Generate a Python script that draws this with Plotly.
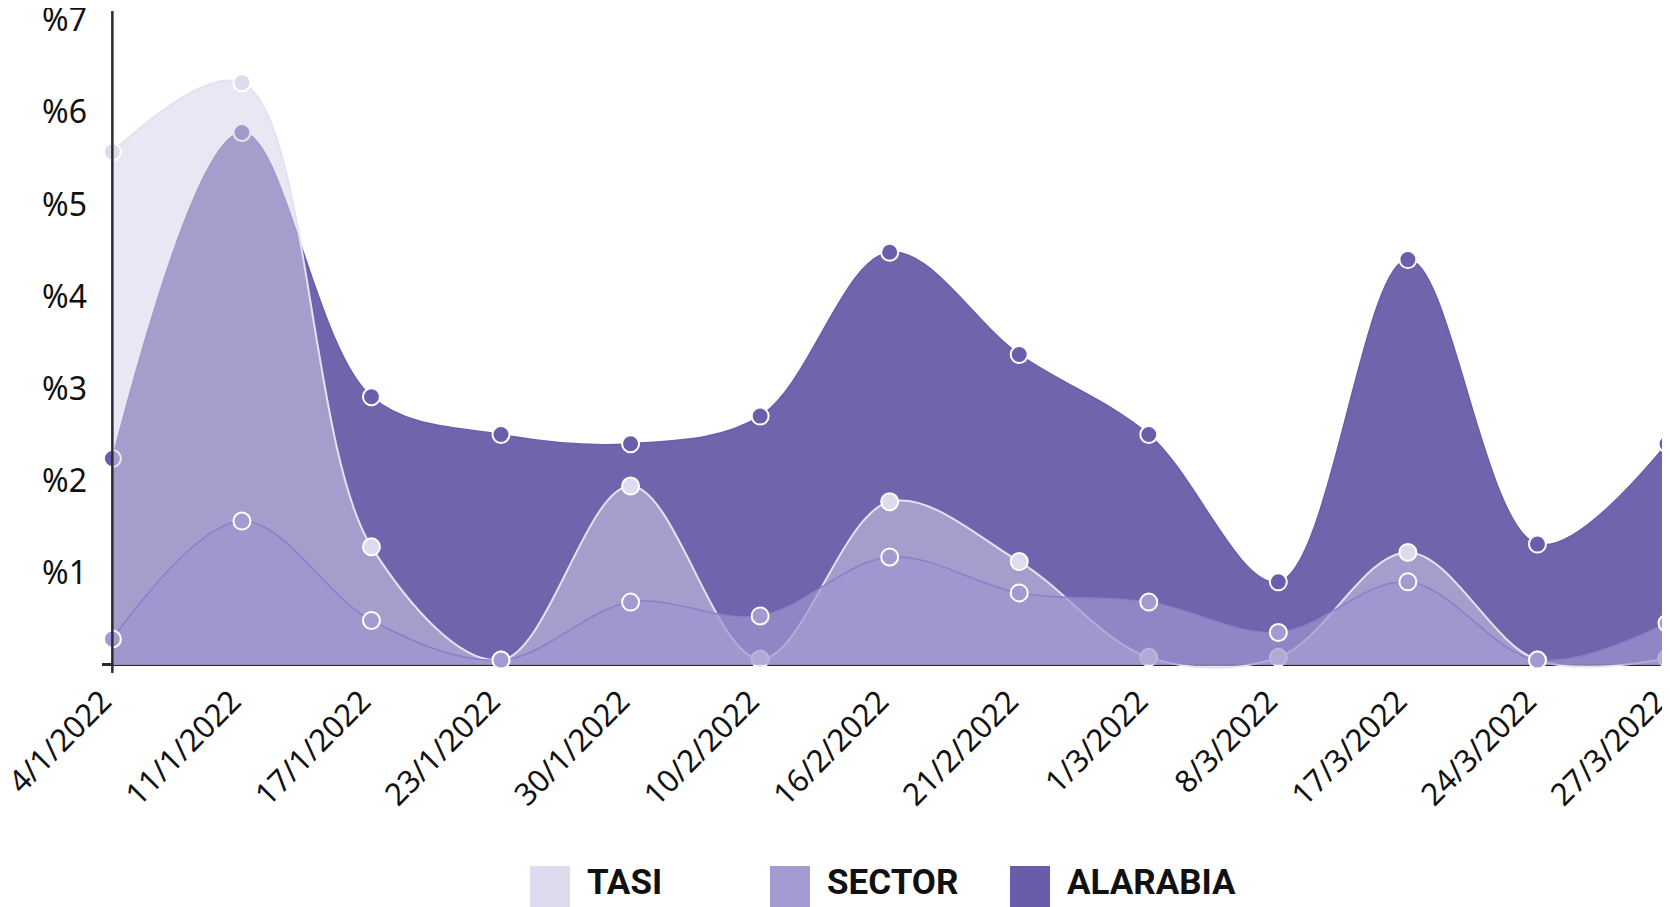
import plotly.graph_objects as go

# ---- data ----
dates = ["4/1/2022", "11/1/2022", "17/1/2022", "23/1/2022", "30/1/2022", "10/2/2022",
         "16/2/2022", "21/2/2022", "1/3/2022", "8/3/2022", "17/3/2022", "24/3/2022", "27/3/2022"]
tasi = [5.57, 6.32, 1.28, 0.05, 1.94, 0.06, 1.77, 1.12, 0.08, 0.08, 1.22, 0.05, 0.07]
sector = [0.28, 1.56, 0.48, 0.05, 0.68, 0.53, 1.17, 0.78, 0.68, 0.35, 0.90, 0.05, 0.45]
alarabia = [2.24, 5.78, 2.91, 2.50, 2.40, 2.70, 4.48, 3.37, 2.50, 0.90, 4.40, 1.31, 2.40]
y_tick_vals = [1, 2, 3, 4, 5, 6, 7]
y_tick_text = ["%1", "%2", "%3", "%4", "%5", "%6", "%7"]
legend_names = ["TASI", "SECTOR", "ALARABIA"]
legend_colors = ["#dedbef", "#a29bd1", "#6a5caa"]

# ---- styles ----
styles = {
    "ALARABIA": dict(fill="rgb(112,101,173)", line="#6a5cab", lw=1.5, marker="#6b5dab"),
    "TASI": dict(fill="rgba(214,210,232,0.53)", line="#e4e1f1", lw=2.0, marker="#dedbef"),
    "SECTOR": dict(fill="rgba(156,149,206,0.70)", line="#8780cc", lw=1.5, marker="#a29bd1"),
}
series = {"ALARABIA": alarabia, "TASI": tasi, "SECTOR": sector}

fig = go.Figure()
for name in ["ALARABIA", "TASI", "SECTOR"]:
    s = styles[name]
    fig.add_trace(go.Scatter(
        x=dates, y=series[name], name=name, mode="lines+markers",
        line=dict(shape="spline", smoothing=1.0, color=s["line"], width=s["lw"]),
        fill="tozeroy", fillcolor=s["fill"],
        marker=dict(size=17, color=s["marker"], line=dict(color="white", width=2)),
        cliponaxis=False, showlegend=False,
    ))

# y-axis line at the first category
fig.add_shape(type="line", xref="x", yref="paper", x0=0, x1=0, y0=0, y1=1,
              line=dict(color="#2e2a33", width=2.5), layer="above")

# the page body adds an 8px offset; layout numbers below are in figure pixels
W, H = 1670, 907
ml, mr, mt, mb = 94, 11, 3, 242
pw, ph = W - ml - mr, H - mt - mb
def px2paper_x(px):
    return (px - ml) / pw
def px2paper_y(py):
    return (H - mb - py) / ph

# legend drawn as squares + labels (bottom centre)
for i, (nm, col) in enumerate(zip(legend_names, legend_colors)):
    x0 = 522 + 240 * i
    fig.add_shape(type="rect", xref="paper", yref="paper",
                  x0=px2paper_x(x0), x1=px2paper_x(x0 + 40),
                  y0=px2paper_y(915), y1=px2paper_y(858),
                  fillcolor=col, line=dict(width=0))
    fig.add_annotation(xref="paper", yref="paper", x=px2paper_x(x0 + 55), y=px2paper_y(874),
                       xanchor="left", yanchor="middle", showarrow=False, text="<b>%s</b>" % nm,
                       font=dict(family="Roboto, sans-serif", size=35, color="#111111"))

fig.update_layout(
    width=W, height=H,
    margin=dict(l=ml, r=mr, t=mt, b=mb, pad=0, autoexpand=False),
    plot_bgcolor="white", paper_bgcolor="white",
    showlegend=False,
    font=dict(family="Noto Sans, sans-serif", color="#111111"),
)
fig.update_xaxes(
    type="category", range=[-0.08, 12], showgrid=False, zeroline=False, showline=False,
    tickangle=-45, tickfont=dict(size=31, color="#111111"), ticks="", ticklabelstandoff=3,
    ticklabelshift=-10, automargin=False, ticklabeloverflow="allow",
)
fig.update_yaxes(
    range=[-0.09, 7.1], tickvals=y_tick_vals, ticktext=y_tick_text, showgrid=False,
    zeroline=True, zerolinecolor="#2b2b2b", zerolinewidth=3, showline=False,
    tickfont=dict(size=32, color="#111111"), ticks="", ticklabelstandoff=14,
    automargin=False, ticklabeloverflow="allow",
)

fig.write_html("out.html")
